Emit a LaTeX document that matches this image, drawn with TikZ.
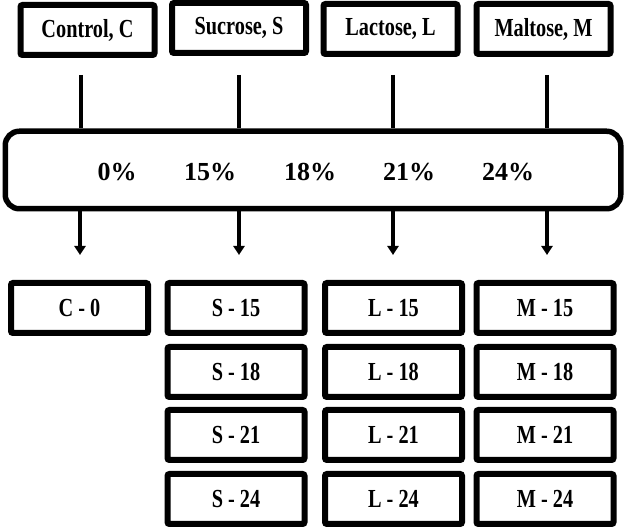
\documentclass[tikz,border=0pt]{standalone}
\usepackage{fontspec}
\setmainfont{Liberation Serif}
\newfontfamily\boxfont{Liberation Serif}[FakeStretch=0.78]
\usetikzlibrary{arrows.meta}

\begin{document}
\begin{tikzpicture}[x=1pt,y=-1pt,
    group/.style={draw,line width=6pt,rounded corners=2pt,minimum width=134pt,minimum height=50pt,inner sep=0pt,font=\boxfont\fontsize{26}{30}\selectfont\bfseries},
    sample/.style={group,minimum width=137pt},
    pct/.style={font=\fontsize{26}{30}\selectfont\bfseries},
    link/.style={line width=4.5pt},
    feed/.style={link,-{Triangle[width=11pt,length=9pt]}}]
            \useasboundingbox (0, 0) rectangle (625, 529);
            % sugar groups
            \node [group] (C) at (87.5, 30) {Control, C};%
            \node [group] (S) at (239, 28) {Sucrose, S};%
            \node [group] (L) at (390.5, 29) {Lactose, L};%
            \node [group] (M) at (543.5, 29) {Maltose, M};%
            % concentrations
            \node [draw, line width=5.5pt, rounded corners=14pt, minimum width=615.5pt, minimum height=77.5pt] (band) at (313, 170) {};%
            \node [pct] (p0) at (117, 172) {0\%};%
            \node [pct] (p15) at (210, 172) {15\%};%
            \node [pct] (p18) at (310, 172) {18\%};%
            \node [pct] (p21) at (409, 172) {21\%};%
            \node [pct] (p24) at (508, 172) {24\%};%
            \coordinate (tC) at (81, 75);
            \coordinate (tS) at (239, 75);
            \coordinate (tL) at (393, 75);
            \coordinate (tM) at (547, 75);
            \draw [link] (tC) to (tC |- band.north);
            \draw [link] (tS) to (tS |- band.north);
            \draw [link] (tL) to (tL |- band.north);
            \draw [link] (tM) to (tM |- band.north);
            \coordinate (eC) at (80, 255);
            \coordinate (eS) at (239, 255);
            \coordinate (eL) at (393, 255);
            \coordinate (eM) at (547, 255);
            \draw [feed] (eC |- band.south) to (eC);
            \draw [feed] (eS |- band.south) to (eS);
            \draw [feed] (eL |- band.south) to (eL);
            \draw [feed] (eM |- band.south) to (eM);
            % samples
            \node [sample] (C0) at (79.5, 308) {C - 0};%
            \node [sample] (S15) at (236, 308) {S - 15};%
            \node [sample] (S18) at (236, 372) {S - 18};%
            \node [sample] (S21) at (236, 435) {S - 21};%
            \node [sample] (S24) at (236, 499) {S - 24};%
            \node [sample] (L15) at (393.5, 308) {L - 15};%
            \node [sample] (L18) at (393.5, 372) {L - 18};%
            \node [sample] (L21) at (393.5, 435) {L - 21};%
            \node [sample] (L24) at (393.5, 499) {L - 24};%
            \node [sample] (M15) at (545, 308) {M - 15};%
            \node [sample] (M18) at (545, 372) {M - 18};%
            \node [sample] (M21) at (545, 435) {M - 21};%
            \node [sample] (M24) at (545, 499) {M - 24};%
        \end{tikzpicture}
\end{document}
